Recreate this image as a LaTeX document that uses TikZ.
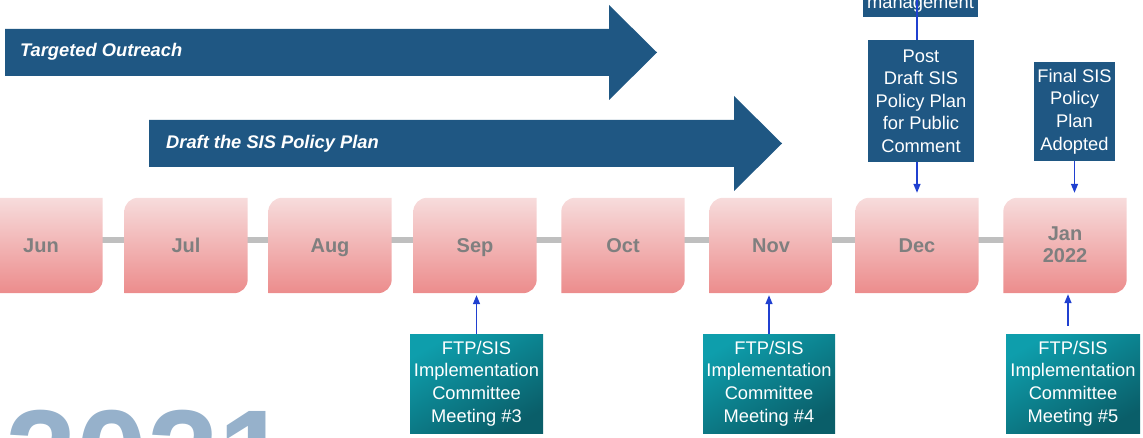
\documentclass[tikz,border=0pt]{standalone}
\usepackage{fontspec}
\setmainfont{Liberation Sans}
\usetikzlibrary{arrows.meta,calc}
\definecolor{navy}{HTML}{1F5783}
\definecolor{pinktop}{HTML}{F7DCDC}
\definecolor{pinkbot}{HTML}{EC8C8C}
\definecolor{monthgray}{HTML}{7F7F7F}
\definecolor{bargray}{HTML}{BFBFBF}
\definecolor{teallight}{HTML}{0E9EAC}
\definecolor{tealdark}{HTML}{0A5E69}
\definecolor{linkblue}{HTML}{2040D0}
\definecolor{yearblue}{HTML}{96B1CB}
\newcommand\monthcard[4]{%
  \path node[cardframe] (#1) at (#2,245.5) {};
  \shade[top color=pinktop,bottom color=pinkbot]
    ($(#1.north west)+(0,14)$) .. controls ($(#1.north west)+(0,6)$) and ($(#1.north west)+(6,0)$) .. ($(#1.north west)+(14,0)$)
    -- (#1.north east) -- ($(#1.south east)+(0,-14)$) .. controls ($(#1.south east)+(0,-6)$) and ($(#1.south east)+(-6,0)$) .. ($(#1.south east)+(-14,0)$)
    -- (#1.south west) -- cycle;
  \node[monthtxt,#4] (#1-t) at ($(#1)+(0,6.7)$) {#3};
}
\begin{document}
\begin{tikzpicture}[x=1pt,y=-1pt,
  cardframe/.style={minimum width=123pt,minimum height=95pt,inner sep=0pt},
  monthtxt/.style={font=\fontsize{20}{22}\selectfont\bfseries,text=monthgray,align=center,inner sep=0pt},
  navybox/.style={fill=navy,text=white,align=center,inner sep=0pt,font=\fontsize{18.3}{22.6}\selectfont},
  tealbox/.style={top color=teallight,bottom color=tealdark,shading angle=30,text=white,align=center,inner sep=0pt,font=\fontsize{18.3}{22.6}\selectfont,minimum height=99pt},
  arrowtxt/.style={text=white,font=\fontsize{18.3}{20}\selectfont\bfseries\itshape,anchor=west,inner sep=0pt},
  bar/.style={line width=6pt,draw=bargray},
  link/.style={draw=linkblue,line width=1.5pt},
  linkarrow/.style={link,-{Triangle[width=7pt,length=9pt]}}
]
\useasboundingbox (0,0) rectangle (1143,438);
\clip (0,0) rectangle (1143,438);
% year watermark
\node[anchor=base west,inner sep=0pt,text=yearblue,font=\fontsize{128}{130}\selectfont\bfseries] (year) at (5,499) {2021};
% big arrows
\fill[navy] (5,29) -- (609,29) -- (609,5) -- (657,52.5) -- (609,100) -- (609,76) -- (5,76) -- cycle;
\node[arrowtxt] (outreach) at (20,52) {Targeted Outreach};
\fill[navy] (149,120) -- (734,120) -- (734,96) -- (782,143.5) -- (734,191) -- (734,167) -- (149,167) -- cycle;
\node[arrowtxt] (draft) at (166,144) {Draft the SIS Policy Plan};
% month cards
\path node[cardframe] (jun0) at (41,245.5) {};
\path node[cardframe] (jul0) at (186,245.5) {};
\path node[cardframe] (aug0) at (330,245.5) {};
\path node[cardframe] (sep0) at (475,245.5) {};
\path node[cardframe] (oct0) at (623,245.5) {};
\path node[cardframe] (nov0) at (771,245.5) {};
\path node[cardframe] (dec0) at (917,245.5) {};
\path node[cardframe] (jan0) at (1065,245.5) {};
\foreach \a/\b in {jun0/jul0,jul0/aug0,aug0/sep0,sep0/oct0,oct0/nov0,nov0/dec0,dec0/jan0}
  \draw[bar] ($(\a.east)+(-2,-5.5)$) -- ($(\b.west)+(2,-5.5)$);
\monthcard{jun}{41}{Jun}{anchor=base}
\monthcard{jul}{186}{Jul}{anchor=base}
\monthcard{aug}{330}{Aug}{anchor=base}
\monthcard{sep}{475}{Sep}{anchor=base}
\monthcard{oct}{623}{Oct}{anchor=base}
\monthcard{nov}{771}{Nov}{anchor=base}
\monthcard{dec}{917}{Dec}{anchor=base}
\monthcard{jan}{1065}{Jan\\2022}{anchor=center,yshift=7pt}
% top boxes
\node[navybox,minimum width=115pt,minimum height=60pt,anchor=south] (mgmt) at (920.5,17) {};
\node[anchor=base,inner sep=0pt,text=white,font=\fontsize{18.3}{22.6}\selectfont] (mgmt-t) at (920.5,8.5) {management};
\node[navybox,minimum width=106pt,minimum height=122pt] (post) at (921,101) {Post\\Draft SIS\\Policy Plan\\for Public\\Comment};
\node[navybox,minimum width=81pt,minimum height=99pt] (final) at (1074.5,111.5) {Final SIS\\Policy\\Plan\\Adopted};
\coordinate (mtop) at (917,0);
\draw[link] (mtop) -- (mtop |- post.north);
\draw[linkarrow] (dec.north |- post.south) -- ($(dec.north)+(0,-5)$);
\draw[linkarrow] (final.south) -- ($(final.south |- jan.north)+(0,-5)$);
% meetings
\node[tealbox,minimum width=133pt] (m3) at (476.5,383.5) {FTP/SIS\\Implementation\\Committee\\Meeting \#3};
\node[tealbox,minimum width=132pt] (m4) at (769,383.5) {FTP/SIS\\Implementation\\Committee\\Meeting \#4};
\node[tealbox,minimum width=134pt] (m5) at (1073,383.5) {FTP/SIS\\Implementation\\Committee\\Meeting \#5};
\draw[linkarrow] (m3.north) -- ($(m3.north |- sep.south)+(0,2)$);
\draw[linkarrow] (m4.north) -- ($(m4.north |- nov.south)+(0,2)$);
\coordinate (m5top) at ($(m5.north)+(-5,-8)$);
\draw[linkarrow] (m5top) -- ($(m5top |- jan.south)+(0,1)$);
\end{tikzpicture}
\end{document}
